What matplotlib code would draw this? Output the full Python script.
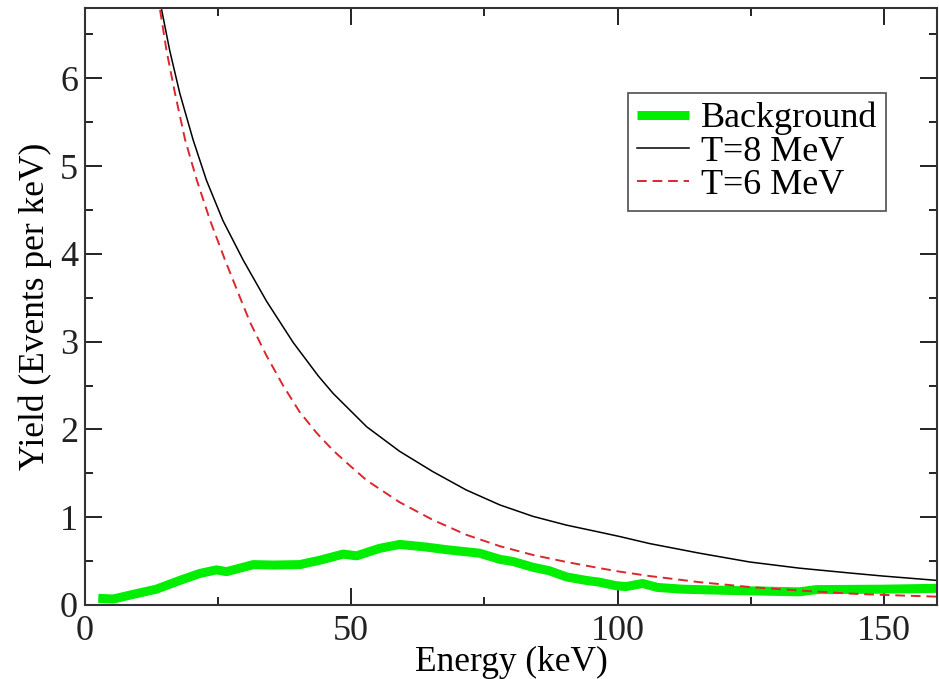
import matplotlib
matplotlib.use("Agg")
import matplotlib.pyplot as plt
from matplotlib.ticker import MultipleLocator

# T=8 MeV curve
t8_energy = [14.4, 15.9, 17.8, 20.3, 22.8, 25.9, 29.7, 34.1, 39.1, 43.8, 46.6, 52.9, 59.1, 65.3,
             71.6, 77.9, 84.1, 90.4, 96.6, 100.4, 106.0, 115.4, 124.8, 134.1, 143.5, 149.8, 160.0]
t8_yield = [6.78, 6.32, 5.83, 5.30, 4.84, 4.38, 3.93, 3.46, 2.99, 2.61, 2.41, 2.03, 1.75, 1.52,
            1.31, 1.14, 1.01, 0.91, 0.83, 0.78, 0.70, 0.59, 0.49, 0.42, 0.365, 0.33, 0.28]

# T=6 MeV curve
t6_energy = [14.1, 15.3, 16.9, 18.8, 21.0, 23.5, 26.3, 29.0, 31.0, 34.0, 37.2, 40.3, 43.5, 46.6,
             49.7, 52.9, 59.1, 65.3, 71.6, 77.9, 84.1, 90.4, 96.6, 100.4, 106.0, 115.4, 124.8,
             134.1, 143.5, 149.8, 160.0]
t6_yield = [6.78, 6.32, 5.83, 5.30, 4.84, 4.38, 3.93, 3.52, 3.22, 2.85, 2.50, 2.20, 1.96, 1.76,
            1.59, 1.42, 1.17, 0.97, 0.80, 0.67, 0.57, 0.49, 0.42, 0.38, 0.33, 0.26, 0.205,
            0.165, 0.13, 0.115, 0.095]

# Background
bg_energy = [2.5, 5.3, 9.7, 13.4, 17.8, 21.6, 24.7, 26.6, 31.6, 35.3, 40.3, 44.1, 48.5, 51.0,
             55.3, 59.1, 64.1, 67.9, 74.1, 77.9, 80.4, 84.1, 87.2, 90.4, 94.1, 96.6, 99.7,
             101.6, 104.7, 107.5, 112.2, 121.6, 134.1, 137.3, 149.8, 160.0]
bg_yield = [0.076, 0.068, 0.13, 0.18, 0.28, 0.36, 0.40, 0.38, 0.46, 0.455, 0.46, 0.51, 0.58, 0.56,
            0.645, 0.69, 0.66, 0.63, 0.59, 0.52, 0.495, 0.43, 0.39, 0.32, 0.28, 0.26, 0.22,
            0.21, 0.245, 0.20, 0.18, 0.165, 0.15, 0.175, 0.18, 0.19]

plt.rcParams['font.family'] = ['Liberation Serif', 'DejaVu Serif']

fig = plt.figure(figsize=(9.39, 6.79), dpi=100)
ax = fig.add_axes([0.0905, 0.109, 0.9075, 0.879])

ax.plot(bg_energy, bg_yield, color='#00ee00', lw=6.5, solid_joinstyle='round',
        solid_capstyle='butt', label='Background')
ax.plot(t8_energy, t8_yield, color='black', lw=1.1, label='T=8 MeV')
ax.plot(t6_energy, t6_yield, color='#d9282e', lw=1.4, dashes=(5, 3), label='T=6 MeV')

ax.set_xlim(0, 160)
ax.set_ylim(0, 6.8)
ax.xaxis.set_major_locator(MultipleLocator(50))
ax.xaxis.set_minor_locator(MultipleLocator(25))
ax.yaxis.set_major_locator(MultipleLocator(1))
ax.yaxis.set_minor_locator(MultipleLocator(0.5))
ax.tick_params(which='both', direction='in', top=True, right=True, colors='#222222',
               labelsize=26, width=1.4)
ax.tick_params(axis='x', which='major', length=12, pad=7)
ax.tick_params(axis='y', which='major', length=12, pad=5)
ax.tick_params(which='minor', length=6)
for s in ax.spines.values():
    s.set_linewidth(1.5)
    s.set_color('#333333')

ax.set_xlabel('Energy (keV)', fontsize=25.5, labelpad=-1)
ax.set_ylabel('Yield (Events per keV)', fontsize=25.5, labelpad=6)

leg = ax.legend(loc='upper right', bbox_to_anchor=(0.94, 0.858), fontsize=26, frameon=True,
                fancybox=False, edgecolor='#333333', handlelength=1.43, handletextpad=0.33,
                borderpad=0.25, labelspacing=0.0, borderaxespad=0)
leg.get_frame().set_linewidth(1.3)

fig.savefig('out.png', dpi=100)
